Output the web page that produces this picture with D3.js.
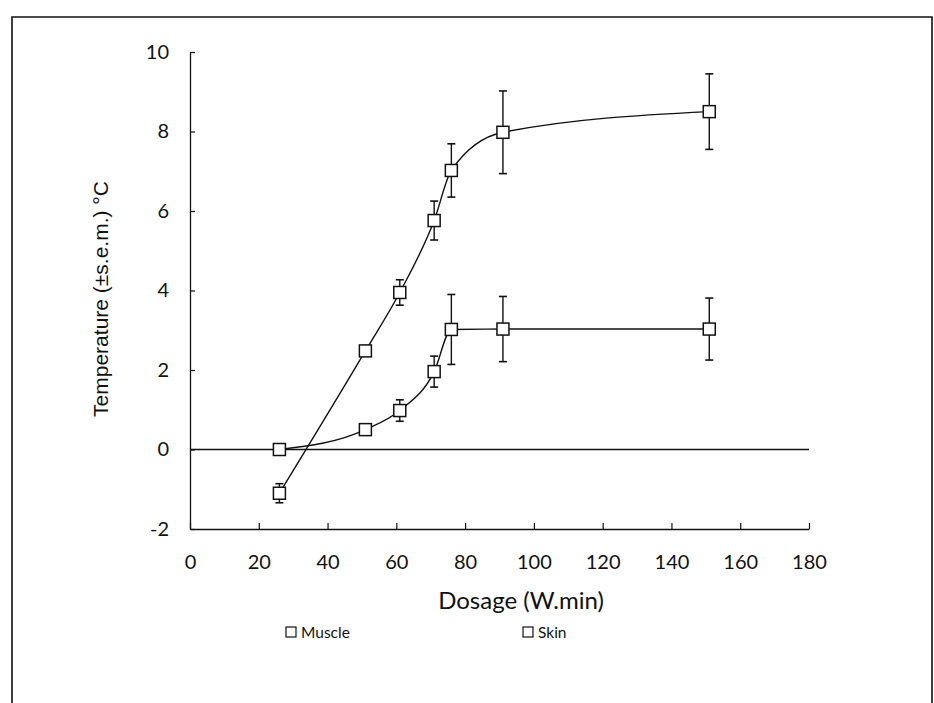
<!DOCTYPE html>
<html>
<head>
<meta charset="utf-8">
<script src="https://cdn.jsdelivr.net/npm/d3@7"></script>
<style>
  html, body { margin: 0; padding: 0; background: #fff; }
  svg { display: block; }
</style>
</head>
<body>
<svg id="chart" width="934" height="703"></svg>
<script>
// ── Data ──────────────────────────────────────────────────────────────────────
const dosage      = [26, 51, 61, 71, 76, 91, 151]
const muscleTemp  = [-1.1, 2.48, 3.95, 5.76, 7.02, 7.98, 8.5]
const muscleErr   = [0.24, 0, 0.32, 0.49, 0.67, 1.04, 0.95]
const skinTemp    = [0, 0.5, 0.98, 1.96, 3.02, 3.03, 3.03]
const skinErr     = [0, 0, 0.27, 0.39, 0.88, 0.82, 0.78]
const xTicks      = [0, 20, 40, 60, 80, 100, 120, 140, 160, 180]
const yTicks      = [-2, 0, 2, 4, 6, 8, 10]
const seriesNames = ['Muscle', 'Skin']

const series = [
  { name: seriesNames[0], pts: dosage.map((d, i) => ({ x: d, y: muscleTemp[i], e: muscleErr[i] })) },
  { name: seriesNames[1], pts: dosage.map((d, i) => ({ x: d, y: skinTemp[i],   e: skinErr[i] })) },
]

// ── SVG setup ─────────────────────────────────────────────────────────────────
const svg = d3.select('#chart')
const FONT = 'Lato, "Liberation Sans", sans-serif'

// scanned page frame
svg.append('path')
  .attr('d', 'M12,710 L12,17 L932,17 L932,710')
  .attr('fill', 'none').attr('stroke', '#111').attr('stroke-width', 1.6)

const x = d3.scaleLinear().domain([0, 180]).range([190, 809])
const y = d3.scaleLinear().domain([-2, 10]).range([529, 52])

// ── Axes ──────────────────────────────────────────────────────────────────────
const gx = svg.append('g')
  .attr('transform', `translate(0,${y(-2)})`)
  .call(d3.axisBottom(x).tickValues(xTicks).tickFormat(d => String(d))
    .tickSize(-6).tickSizeOuter(0).tickPadding(26))
const gy = svg.append('g')
  .attr('transform', `translate(${x(0)},0)`)
  .call(d3.axisLeft(y).tickValues(yTicks).tickFormat(d => String(d))
    .tickSize(-5).tickSizeOuter(0).tickPadding(21))

;[gx, gy].forEach(g => {
  g.select('.domain').attr('stroke', '#111').attr('stroke-width', 1.3)
  g.selectAll('.tick line').attr('stroke', '#111').attr('stroke-width', 1.2)
  g.selectAll('.tick text').attr('fill', '#111').attr('font-family', FONT).attr('font-size', 20)
})

// zero reference line
svg.append('line')
  .attr('x1', x(0)).attr('x2', x(180))
  .attr('y1', y(0)).attr('y2', y(0))
  .attr('stroke', '#111').attr('stroke-width', 1.3)

// ── Axis titles ───────────────────────────────────────────────────────────────
svg.append('text')
  .attr('x', 521).attr('y', 609)
  .attr('text-anchor', 'middle')
  .attr('font-family', FONT).attr('font-size', 24).attr('fill', '#111')
  .text('Dosage (W.min)')

svg.append('text')
  .attr('transform', 'translate(108,299) rotate(-90)')
  .attr('text-anchor', 'middle')
  .attr('font-family', '"Liberation Sans", Arial, sans-serif').attr('font-size', 21).attr('fill', '#111')
  .text('Temperature (±s.e.m.) °C')

// ── Series ────────────────────────────────────────────────────────────────────
const line = d3.line()
  .x(d => x(d.x)).y(d => y(d.y))
  .curve(d3.curveMonotoneX)

const S = 12   // marker size
const CAP = 4  // half cap width

series.forEach(s => {
  svg.append('path')
    .attr('d', line(s.pts))
    .attr('fill', 'none').attr('stroke', '#111').attr('stroke-width', 1.4)

  const g = svg.append('g')
  const withErr = s.pts.filter(d => d.e > 0)
  g.selectAll('line.bar').data(withErr).join('line')
    .attr('x1', d => x(d.x)).attr('x2', d => x(d.x))
    .attr('y1', d => y(d.y + d.e)).attr('y2', d => y(d.y - d.e))
    .attr('stroke', '#111').attr('stroke-width', 1.4)
  ;[1, -1].forEach(sign => {
    g.selectAll(null).data(withErr).join('line')
      .attr('x1', d => x(d.x) - CAP).attr('x2', d => x(d.x) + CAP)
      .attr('y1', d => y(d.y + sign * d.e)).attr('y2', d => y(d.y + sign * d.e))
      .attr('stroke', '#111').attr('stroke-width', 1.6)
  })
  g.selectAll('rect').data(s.pts).join('rect')
    .attr('x', d => x(d.x) - S / 2).attr('y', d => y(d.y) - S / 2)
    .attr('width', S).attr('height', S)
    .attr('fill', '#fff').attr('stroke', '#111').attr('stroke-width', 1.5)
})

// ── Legend ────────────────────────────────────────────────────────────────────
const legendX = [286, 523]
const lg = svg.append('g').selectAll('g').data(seriesNames).join('g')
  .attr('transform', (d, i) => `translate(${legendX[i]},632)`)
lg.append('rect')
  .attr('x', 0).attr('y', -5).attr('width', 10).attr('height', 10)
  .attr('fill', '#fff').attr('stroke', '#111').attr('stroke-width', 1.2)
lg.append('text')
  .attr('x', 15).attr('y', 6)
  .attr('font-family', FONT).attr('font-size', 15.5).attr('fill', '#111')
  .text(d => d)
</script>
</body>
</html>
